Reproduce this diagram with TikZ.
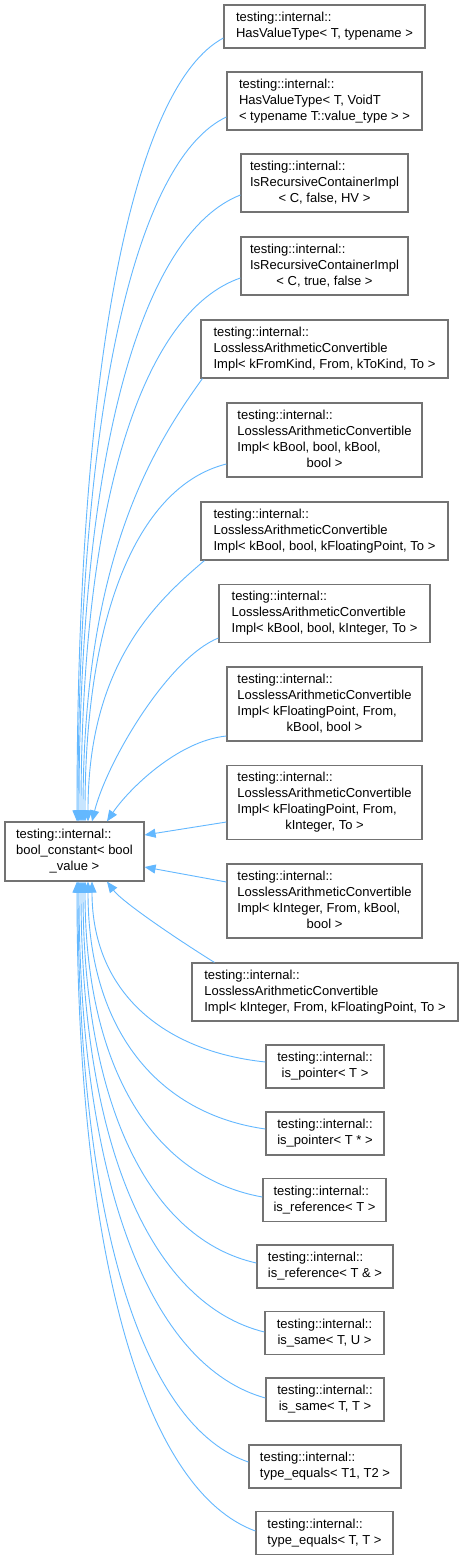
\documentclass[tikz,border=0pt]{standalone}
\usepackage{fontspec}
\setmainfont{Liberation Sans}
\usetikzlibrary{arrows.meta}
\definecolor{edgeblue}{RGB}{99,184,255}
\definecolor{boxgray}{RGB}{115,115,115}
\newcommand{\lines}[1]{\begin{tabular}{@{}l@{}}#1\end{tabular}}
\newcommand{\lastc}[1]{\multicolumn{1}{@{}c@{}}{#1}}
\newcommand{\clsbox}[6]{\node[clsnode, minimum width=#4pt, minimum height=#5pt] (#1) at (#2,#3) {\lines{#6}};}
\tikzset{
  clsnode/.style={draw=boxgray, fill=white, line width=1.2pt, inner sep=0pt, anchor=center,
    font=\fontsize{13}{16}\selectfont, text=black},
  inh/.style={draw=edgeblue, line width=0.9pt, {Triangle[length=11pt,width=9pt,fill=edgeblue]}-}
}
\begin{document}
\begin{tikzpicture}[x=1pt,y=-1pt]
\useasboundingbox (0,0) rectangle (463,1560);
\fill[white] (0,0) rectangle (463,1560);
% base
\clsbox{base}{74.5}{851.5}{139}{59}{testing::internal::\\bool\_constant< bool\\\lastc{\_value >}}
% top boxes
\clsbox{b1}{324.5}{26.5}{201}{43}{testing::internal::\\HasValueType< T, typename >}
\clsbox{b2}{324.5}{101}{195}{58}{testing::internal::\\HasValueType< T, VoidT\\< typename T::value\_type > >}
\clsbox{b3}{324.5}{183}{167}{58}{testing::internal::\\IsRecursiveContainerImpl\\\lastc{< C, false, HV >}}
\clsbox{b4}{324.5}{266}{167}{58}{testing::internal::\\IsRecursiveContainerImpl\\\lastc{< C, true, false >}}
\clsbox{b5}{324.5}{349}{247}{58}{testing::internal::\\LosslessArithmeticConvertible\\Impl< kFromKind, From, kToKind, To >}
\clsbox{b6}{324.5}{440}{195}{74}{testing::internal::\\LosslessArithmeticConvertible\\Impl< kBool, bool, kBool,\\\lastc{bool >}}
\clsbox{b7}{324.5}{531}{247}{58}{testing::internal::\\LosslessArithmeticConvertible\\Impl< kBool, bool, kFloatingPoint, To >}
\clsbox{b8}{324.5}{613.5}{211}{58}{testing::internal::\\LosslessArithmeticConvertible\\Impl< kBool, bool, kInteger, To >}
\clsbox{b9}{324.5}{704}{195}{74}{testing::internal::\\LosslessArithmeticConvertible\\Impl< kFloatingPoint, From,\\\lastc{kBool, bool >}}
\clsbox{b10}{324.5}{802.5}{195}{74}{testing::internal::\\LosslessArithmeticConvertible\\Impl< kFloatingPoint, From,\\\lastc{kInteger, To >}}
\clsbox{b11}{324.5}{901}{195}{74}{testing::internal::\\LosslessArithmeticConvertible\\Impl< kInteger, From, kBool,\\\lastc{bool >}}
\clsbox{b12}{325}{992}{266}{58}{testing::internal::\\LosslessArithmeticConvertible\\Impl< kInteger, From, kFloatingPoint, To >}
\clsbox{b13}{325}{1066.5}{118}{43}{testing::internal::\\\lastc{is\_pointer< T >}}
\clsbox{b14}{325}{1133.5}{118}{43}{testing::internal::\\\lastc{is\_pointer< T * >}}
\clsbox{b15}{324.5}{1200}{123}{43}{testing::internal::\\\lastc{is\_reference< T >}}
\clsbox{b16}{325}{1266.5}{136}{43}{testing::internal::\\\lastc{is\_reference< T \& >}}
\clsbox{b17}{324.5}{1333}{119}{43}{testing::internal::\\\lastc{is\_same< T, U >}}
\clsbox{b18}{325}{1399.5}{118}{43}{testing::internal::\\\lastc{is\_same< T, T >}}
\clsbox{b19}{325}{1466.5}{152}{43}{testing::internal::\\\lastc{type\_equals< T1, T2 >}}
\clsbox{b20}{324.5}{1533}{137}{43}{testing::internal::\\\lastc{type\_equals< T, T >}}
% edges to upper boxes
\draw[inh] ([xshift=2.5pt]base.north) .. controls +(0,-470) and +(-88,47) .. ([yshift=-11.5pt]b1.west);
\draw[inh] ([xshift=3.5pt]base.north) .. controls +(0,-423) and +(-89,42) .. ([yshift=-16pt]b2.west);
\draw[inh] ([xshift=4.5pt]base.north) .. controls +(0,-376) and +(-97,38) .. ([yshift=-12pt]b3.west);
\draw[inh] ([xshift=6.5pt]base.north) .. controls +(0,-326) and +(-96,33) .. ([yshift=-12pt]b4.west);
\draw[inh] ([xshift=8.5pt]base.north) .. controls +(0,-266) and +(-48,67) .. ([xshift=2pt]b5.south west);
\draw[inh] ([xshift=10.5pt]base.north) .. controls +(0,-215) and +(-85,21) .. ([yshift=-24pt]b6.west);
\draw[inh] ([xshift=13.5pt]base.north) .. controls +(0,-158) and +(-47,40) .. ([xshift=4pt]b7.south west);
\draw[inh] ([xshift=17.5pt]base.north) .. controls +(15,-60) and +(-50,20) .. ([yshift=-24.5pt]b8.west);
\draw[inh] ([xshift=32.5pt]base.north) .. controls +(20,-30) and +(-50,5) .. ([yshift=-32pt]b9.west);
% side edges
\draw[inh] ([yshift=16.5pt]base.east) -- ([yshift=-19.5pt]b10.west);
\draw[inh] ([yshift=-15.5pt]base.east) -- ([yshift=19pt]b11.west);
% edges to lower boxes
\draw[inh] ([xshift=32.5pt]base.south) .. controls +(15,20) and +(-40,-25) .. ([xshift=23pt]b12.north west);
\draw[inh] ([xshift=17.5pt]base.south) .. controls +(0,109) and +(-104,-11) .. ([yshift=4.5pt]b13.west);
\draw[inh] ([xshift=13.5pt]base.south) .. controls +(0,149) and +(-107,-15) .. ([yshift=4.5pt]b14.west);
\draw[inh] ([xshift=10.5pt]base.south) .. controls +(0,190) and +(-107,-19) .. ([yshift=3pt]b15.west);
\draw[inh] ([xshift=8.5pt]base.south) .. controls +(0,229) and +(-104,-23) .. ([yshift=3.5pt]b16.west);
\draw[inh] ([xshift=6.5pt]base.south) .. controls +(0,271) and +(-110,-27) .. ([yshift=1pt]b17.west);
\draw[inh] ([xshift=4.5pt]base.south) .. controls +(0,310) and +(-112,-31) .. ([yshift=1.5pt]b18.west);
\draw[inh] ([xshift=3.5pt]base.south) .. controls +(0,349) and +(-103,-35) .. ([yshift=4.5pt]b19.west);
\draw[inh] ([xshift=2.5pt]base.south) .. controls +(0,390) and +(-107,-39) .. ([yshift=2pt]b20.west);
\end{tikzpicture}
\end{document}
